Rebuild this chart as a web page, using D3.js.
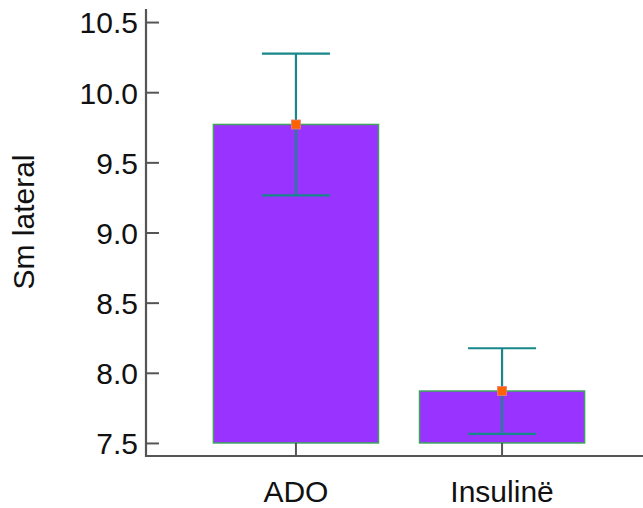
<!DOCTYPE html>
<html>
<head>
<meta charset="utf-8">
<script src="https://cdn.jsdelivr.net/npm/d3@7"></script>
<style>
  html, body { margin: 0; padding: 0; background: #fff; }
  svg { display: block; }
  text { font-family: "Liberation Sans", Arial, sans-serif; fill: #111; }
</style>
</head>
<body>
<svg id="chart" width="643" height="508"></svg>
<script>
// Group names, means and error half-widths
const categories = ["ADO", "Insulinë"];
const means = [9.77, 7.87];
const errors = [0.505, 0.305];
const yTicks = [7.5, 8.0, 8.5, 9.0, 9.5, 10.0, 10.5];
const yLabel = "Sm lateral";
const yDomain = [7.407, 10.593];
const baseline = 7.5;

const W = 643, H = 508;
const axisX = 146, axisY = 456, topY = 9;

const svg = d3.select("#chart");

const y = d3.scaleLinear().domain(yDomain).range([axisY, topY]);
const x = d3.scaleBand()
  .domain(categories)
  .range([axisX, 652])
  .paddingInner(0.199)
  .paddingOuter(0.327);

const rows = categories.map((c, i) => ({ c, m: means[i], e: errors[i] }));

// Bars from the baseline up to the mean
svg.append("g").selectAll("rect")
  .data(rows)
  .join("rect")
  .attr("x", d => x(d.c))
  .attr("width", x.bandwidth())
  .attr("y", d => y(d.m))
  .attr("height", d => y(baseline) - y(d.m))
  .attr("fill", "#9933ff")
  .attr("stroke", "#3fa35f")
  .attr("stroke-width", 1.5);

// Error bars
const capHalf = 34;
const eg = svg.append("g").attr("stroke", "#17878a").attr("stroke-width", 2.2);
rows.forEach(d => {
  const cx = x(d.c) + x.bandwidth() / 2;
  eg.append("line").attr("x1", cx).attr("x2", cx)
    .attr("y1", y(d.m + d.e)).attr("y2", y(d.m - d.e));
  eg.append("line").attr("x1", cx - capHalf).attr("x2", cx + capHalf)
    .attr("y1", y(d.m + d.e)).attr("y2", y(d.m + d.e));
  eg.append("line").attr("x1", cx - capHalf).attr("x2", cx + capHalf)
    .attr("y1", y(d.m - d.e)).attr("y2", y(d.m - d.e));
});

// Mean markers
svg.append("g").selectAll("rect")
  .data(rows)
  .join("rect")
  .attr("x", d => x(d.c) + x.bandwidth() / 2 - 4.5)
  .attr("y", d => y(d.m) - 4.5)
  .attr("width", 9)
  .attr("height", 9)
  .attr("fill", "#ff6200")
  .attr("stroke", "#e8807a")
  .attr("stroke-width", 0.8);

// Y axis (ticks pointing inward)
const yAxis = d3.axisRight(y).tickValues(yTicks).tickFormat(d3.format(".1f")).tickSize(13);
const gy = svg.append("g").attr("transform", `translate(${axisX},0)`).call(yAxis);
gy.select(".domain").remove();
gy.selectAll(".tick line").attr("stroke", "#555").attr("stroke-width", 2);
gy.selectAll(".tick text")
  .attr("x", -8).attr("dy", "0.36em")
  .attr("text-anchor", "end")
  .attr("font-size", 30)
  .attr("font-family", "Liberation Sans, Arial, sans-serif")
  .attr("fill", "#111");

// X axis (ticks pointing inward)
const xAxis = d3.axisTop(x).tickSize(13);
const gx = svg.append("g").attr("transform", `translate(0,${axisY})`).call(xAxis);
gx.select(".domain").remove();
gx.selectAll(".tick line").attr("stroke", "#555").attr("stroke-width", 2);
gx.selectAll(".tick text")
  .attr("y", 45.5).attr("dy", 0)
  .attr("font-size", 30)
  .attr("font-family", "Liberation Sans, Arial, sans-serif")
  .attr("fill", "#111");

// Axis lines
svg.append("line").attr("x1", axisX).attr("x2", axisX).attr("y1", topY).attr("y2", axisY + 1)
  .attr("stroke", "#555").attr("stroke-width", 2.2);
svg.append("line").attr("x1", axisX - 1).attr("x2", W).attr("y1", axisY).attr("y2", axisY)
  .attr("stroke", "#555").attr("stroke-width", 2.2);

// Y axis title
svg.append("text")
  .attr("transform", `translate(34,222) rotate(-90)`)
  .attr("text-anchor", "middle")
  .attr("font-size", 30)
  .text(yLabel);
</script>
</body>
</html>
